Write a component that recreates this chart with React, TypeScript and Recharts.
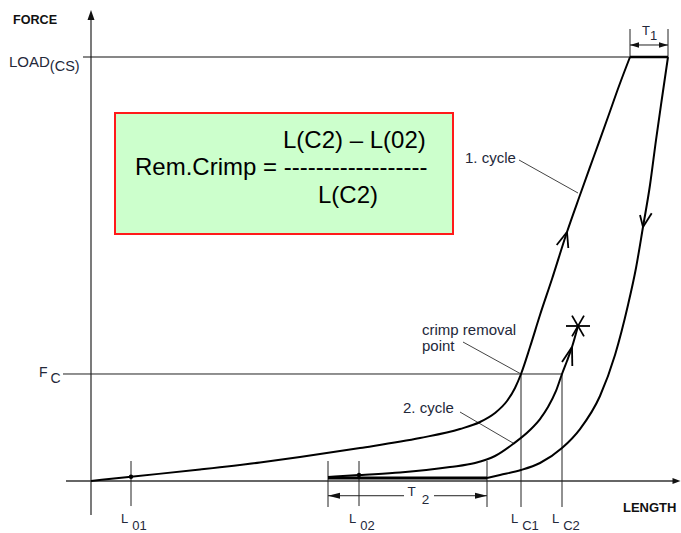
import React from 'react';
import {
  ComposedChart,
  Line,
  XAxis,
  YAxis,
  ReferenceLine,
  ReferenceDot,
  ReferenceArea,
} from 'recharts';

const FONT = "'Liberation Sans', Arial, Helvetica, sans-serif";
const INK = '#23283a';

// chart units: x = length, y = force (LOAD(CS) = 100)
const X_DOMAIN: [number, number] = [-18.2, 118];
const Y_DOMAIN: [number, number] = [-12.26, 113.44];

const LOAD_CS = 100;
const F_C = 25.24;

const lengthMarks = [
  { sub: '01', x: 8 },
  { sub: '02', x: 53.6 },
  { sub: 'C1', x: 86 },
  { sub: 'C2', x: 94.2 },
];
const T2_RANGE = [47.4, 79.2];
const T1_RANGE = [107.8, 115.4];
const relaxedLevel = 0.71;

const cycle1Loading = [
  { x: 0, y: 0 },
  { x: 8, y: 1.01 },
  { x: 21.8, y: 2.71 },
  { x: 33.8, y: 4.36 },
  { x: 41.8, y: 5.66 },
  { x: 53.8, y: 7.78 },
  { x: 65.8, y: 10.14 },
  { x: 73.8, y: 12.26 },
  { x: 77.8, y: 13.92 },
  { x: 80.8, y: 16.04 },
  { x: 83.2, y: 18.87 },
  { x: 84.8, y: 21.93 },
  { x: 86, y: 25.24 },
  { x: 87.8, y: 31.6 },
  { x: 89.8, y: 39.15 },
  { x: 92.2, y: 47.64 },
  { x: 95.2, y: 58.73 },
  { x: 97.8, y: 67.45 },
  { x: 100.6, y: 76.65 },
  { x: 103.4, y: 85.85 },
  { x: 105.6, y: 93.16 },
  { x: 107.8, y: 100 },
];

const cycle1Unloading = [
  { x: 79.2, y: 0.71 },
  { x: 81.8, y: 1.42 },
  { x: 86, y: 2.59 },
  { x: 89.8, y: 4.25 },
  { x: 94.2, y: 7.78 },
  { x: 97.8, y: 12.26 },
  { x: 101.8, y: 20.05 },
  { x: 104.8, y: 29.72 },
  { x: 107.4, y: 41.51 },
  { x: 109, y: 50.24 },
  { x: 110.4, y: 59.91 },
  { x: 111.8, y: 69.81 },
  { x: 113, y: 80.42 },
  { x: 114.2, y: 90.33 },
  { x: 115.4, y: 100 },
];

const cycle2Loading = [
  { x: 47.4, y: 0.94 },
  { x: 53.6, y: 1.42 },
  { x: 61.8, y: 2.0 },
  { x: 71.8, y: 3.3 },
  { x: 76.8, y: 4.25 },
  { x: 80.8, y: 5.9 },
  { x: 84.4, y: 8.73 },
  { x: 87.8, y: 12.03 },
  { x: 89.8, y: 14.62 },
  { x: 91.4, y: 17.45 },
  { x: 93, y: 21.23 },
  { x: 94.2, y: 25.24 },
  { x: 95.2, y: 28.3 },
  { x: 96.2, y: 31.6 },
  { x: 97.4, y: 36.56 },
];

// direction arrows on the curves: tip and two barb ends
const curveArrows = [
  { tip: { x: 95.2, y: 58.73 }, a: { x: 93.14, y: 55.66 }, b: { x: 95.46, y: 54.95 } },
  { tip: { x: 110.4, y: 59.91 }, a: { x: 109.8, y: 62.74 }, b: { x: 112.14, y: 63.14 } },
  { tip: { x: 96.2, y: 31.6 }, a: { x: 94.2, y: 28.07 }, b: { x: 96.26, y: 27.12 } },
];

const leaders = [
  { from: { x: 85.6, y: 75.71 }, to: { x: 97.4, y: 67.92 } },
  { from: { x: 74.4, y: 32.78 }, to: { x: 86, y: 25.24 } },
  { from: { x: 73.8, y: 16.27 }, to: { x: 84.4, y: 8.96 } },
];

const tri = (dir: 'up' | 'left' | 'right', len: number, half: number) => (p: any) => {
  const { cx, cy } = p;
  let pts = '';
  if (dir === 'up') pts = `${cx},${cy} ${cx - half},${cy + len} ${cx + half},${cy + len}`;
  if (dir === 'left') pts = `${cx},${cy} ${cx + len},${cy - half} ${cx + len},${cy + half}`;
  if (dir === 'right') pts = `${cx},${cy} ${cx - len},${cy - half} ${cx - len},${cy + half}`;
  return <polygon points={pts} fill="#111" />;
};

const txt =
  (
    content: React.ReactNode,
    o: { size: number; weight?: any; color?: string; anchor?: any; dx?: number; dy?: number }
  ) =>
  (p: any) =>
    (
      <text
        x={p.cx + (o.dx || 0)}
        y={p.cy + (o.dy || 0)}
        fontFamily={FONT}
        fontSize={o.size}
        fontWeight={o.weight || 'normal'}
        fill={o.color || INK}
        textAnchor={o.anchor || 'start'}
      >
        {content}
      </text>
    );

const star = (p: any) => {
  const { cx, cy } = p;
  const r = 12;
  const lines = [0, 60, 120].map((a) => {
    const rad = (a * Math.PI) / 180;
    return (
      <line
        key={a}
        x1={cx - r * Math.cos(rad)}
        y1={cy - r * Math.sin(rad)}
        x2={cx + r * Math.cos(rad)}
        y2={cy + r * Math.sin(rad)}
        stroke="#000"
        strokeWidth={1.8}
      />
    );
  });
  return <g>{lines}</g>;
};

const dot = (p: any) => <circle cx={p.cx} cy={p.cy} r={2.2} fill="#000" />;

export default function App() {
  const axisStroke = '#333';
  return (
    <div style={{ position: 'absolute', left: 0, top: 0, width: 681, height: 533, background: '#fff' }}>
      <ComposedChart width={681} height={533} margin={{ top: 0, right: 0, bottom: 0, left: 0 }}>
        <XAxis type="number" dataKey="x" domain={X_DOMAIN} allowDataOverflow hide />
        <YAxis type="number" dataKey="y" domain={Y_DOMAIN} allowDataOverflow hide />

        {/* formula box */}
        <ReferenceArea x1={4.8} x2={72.4} y1={58.25} y2={86.79} fill="#ccffcc" fillOpacity={1} stroke="#ff1a1a" strokeWidth={2} />

        {/* axes */}
        <ReferenceLine segment={[{ x: 0, y: -8.02 }, { x: 0, y: 109.6 }]} stroke={axisStroke} strokeWidth={1.3} />
        <ReferenceLine segment={[{ x: -5, y: 0 }, { x: 116.5, y: 0 }]} stroke={axisStroke} strokeWidth={1.3} />
        <ReferenceDot x={0} y={111.08} r={1} shape={tri('up', 10, 3.5)} />
        <ReferenceDot x={117.9} y={0} r={1} shape={tri('right', 8, 3)} />

        {/* force levels */}
        <ReferenceLine segment={[{ x: -1.6, y: LOAD_CS }, { x: T1_RANGE[1], y: LOAD_CS }]} stroke="#111" strokeWidth={1.2} />
        <ReferenceLine segment={[{ x: -5.6, y: F_C }, { x: lengthMarks[3].x, y: F_C }]} stroke="#222" strokeWidth={1} />

        {/* length marks */}
        {lengthMarks.map((m, i) => (
          <ReferenceLine
            key={'lm' + i}
            segment={[
              { x: m.x, y: i < 2 ? 4.72 : F_C },
              { x: m.x, y: i < 2 ? -5.9 : -6.13 },
            ]}
            stroke="#222"
            strokeWidth={1}
          />
        ))}
        {T2_RANGE.map((x, i) => (
          <ReferenceLine key={'t2v' + i} segment={[{ x, y: 4.72 }, { x, y: -6.13 }]} stroke="#222" strokeWidth={1} />
        ))}
        {T1_RANGE.map((x, i) => (
          <ReferenceLine key={'t1v' + i} segment={[{ x, y: 106.6 }, { x, y: 100 }]} stroke="#222" strokeWidth={1} />
        ))}

        {/* T1 dimension */}
        <ReferenceLine segment={[{ x: T1_RANGE[0], y: 102.83 }, { x: T1_RANGE[1], y: 102.83 }]} stroke="#222" strokeWidth={1} />
        <ReferenceDot x={T1_RANGE[0]} y={102.83} r={1} shape={tri('left', 9, 2.8)} />
        <ReferenceDot x={T1_RANGE[1]} y={102.83} r={1} shape={tri('right', 9, 2.8)} />

        {/* T2 dimension */}
        <ReferenceLine segment={[{ x: T2_RANGE[0], y: -3.47 }, { x: 62.6, y: -3.47 }]} stroke="#222" strokeWidth={1} />
        <ReferenceLine segment={[{ x: 68.6, y: -3.47 }, { x: T2_RANGE[1], y: -3.47 }]} stroke="#222" strokeWidth={1} />
        <ReferenceDot x={T2_RANGE[0]} y={-3.47} r={1} shape={tri('left', 12, 3)} />
        <ReferenceDot x={T2_RANGE[1]} y={-3.47} r={1} shape={tri('right', 12, 3)} />

        {/* leader lines */}
        {leaders.map((l, i) => (
          <ReferenceLine key={'ld' + i} segment={[l.from, l.to]} stroke="#444" strokeWidth={1} />
        ))}

        {/* curves */}
        <Line data={cycle1Loading} dataKey="y" type="monotone" stroke="#000" strokeWidth={2} dot={false} activeDot={false} isAnimationActive={false} />
        <Line data={cycle1Unloading} dataKey="y" type="monotone" stroke="#000" strokeWidth={2} dot={false} activeDot={false} isAnimationActive={false} />
        <Line data={cycle2Loading} dataKey="y" type="monotone" stroke="#000" strokeWidth={2} dot={false} activeDot={false} isAnimationActive={false} />
        <ReferenceLine segment={[{ x: T2_RANGE[0], y: relaxedLevel }, { x: T2_RANGE[1], y: relaxedLevel }]} stroke="#000" strokeWidth={3} />
        <ReferenceLine segment={[{ x: T1_RANGE[0], y: LOAD_CS }, { x: T1_RANGE[1], y: LOAD_CS }]} stroke="#000" strokeWidth={2.5} />

        {curveArrows.map((a, i) => (
          <ReferenceLine key={'ca' + i} segment={[a.a, a.tip]} stroke="#000" strokeWidth={1.8} />
        ))}
        {curveArrows.map((a, i) => (
          <ReferenceLine key={'cb' + i} segment={[a.b, a.tip]} stroke="#000" strokeWidth={1.8} />
        ))}

        <ReferenceDot x={cycle1Loading[1].x} y={cycle1Loading[1].y} r={1} shape={dot} />
        <ReferenceDot x={cycle2Loading[1].x} y={cycle2Loading[1].y} r={1} shape={dot} />
        <ReferenceDot x={97.4} y={36.56} r={1} shape={star} />

        {/* axis titles */}
        <ReferenceDot x={0} y={LOAD_CS} r={1} shape={txt('FORCE', { size: 12.6, weight: 'bold', color: '#111', dx: -78, dy: -33 })} />
        <ReferenceDot x={X_DOMAIN[1]} y={0} r={1} shape={txt('LENGTH', { size: 13, weight: 'bold', color: '#111', dx: -58, dy: 31 })} />

        {/* y level labels */}
        <ReferenceDot
          x={0}
          y={LOAD_CS}
          r={1}
          shape={txt(
            <>
              LOAD<tspan dy={4} fontSize={14.5}>(CS)</tspan>
            </>,
            { size: 15, dx: -82, dy: 10 }
          )}
        />
        <ReferenceDot
          x={0}
          y={F_C}
          r={1}
          shape={txt(
            <>
              F<tspan dx={3} dy={6} fontSize={14}>C</tspan>
            </>,
            { size: 14, dx: -52, dy: 3 }
          )}
        />

        {/* length labels */}
        {lengthMarks.map((m, i) => (
          <ReferenceDot
            key={'ll' + i}
            x={m.x}
            y={0}
            r={1}
            shape={txt(
              <>
                L<tspan dx={4} dy={7}>{m.sub}</tspan>
              </>,
              { size: 13, dx: -10, dy: 42 }
            )}
          />
        ))}

        {/* dimension labels */}
        <ReferenceDot
          x={(T1_RANGE[0] + T1_RANGE[1]) / 2}
          y={LOAD_CS}
          r={1}
          shape={txt(
            <>
              T<tspan dx={0} dy={5}>1</tspan>
            </>,
            { size: 13, dx: -7, dy: -22 }
          )}
        />
        <ReferenceDot
          x={(T2_RANGE[0] + T2_RANGE[1]) / 2}
          y={-3.47}
          r={1}
          shape={txt(
            <>
              T<tspan dx={6} dy={8}>2</tspan>
            </>,
            { size: 13.5, dx: 0, dy: 0 }
          )}
        />

        {/* curve annotations */}
        <ReferenceDot x={74.8} y={75.0} r={1} shape={txt('1. cycle', { size: 15 })} />
        <ReferenceDot x={66.2} y={34.43} r={1} shape={txt('crimp removal', { size: 15 })} />
        <ReferenceDot x={66.2} y={30.66} r={1} shape={txt('point', { size: 15 })} />
        <ReferenceDot x={62.4} y={16.1} r={1} shape={txt('2. cycle', { size: 15 })} />

        {/* formula */}
        <ReferenceDot x={38.4} y={78.54} r={1} shape={txt('L(C2) – L(02)', { size: 24, color: '#000' })} />
        <ReferenceDot x={8.8} y={72.17} r={1} shape={txt('Rem.Crimp = ------------------', { size: 24, color: '#000' })} />
        <ReferenceDot x={45.4} y={65.57} r={1} shape={txt('L(C2)', { size: 24, color: '#000' })} />
      </ComposedChart>
    </div>
  );
}
